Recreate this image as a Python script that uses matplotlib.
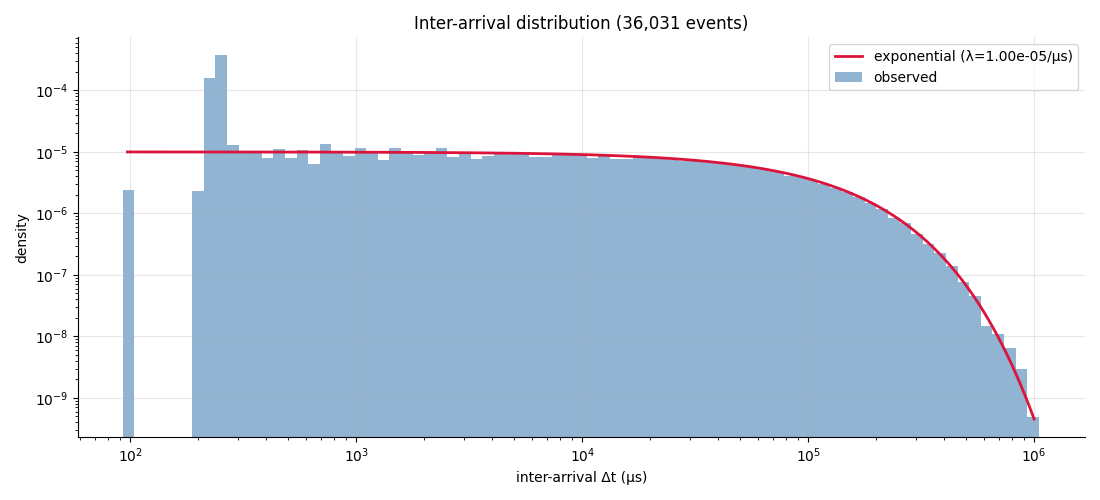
import numpy as np
import matplotlib
matplotlib.use("Agg")
import matplotlib.pyplot as plt

# histogram data, log-spaced bins
n_events = 36031
t_min, t_max = 92.5, 1.048e6
n_bins = 79
density = [
    2.4e-6, 0, 0, 0, 0, 0, 2.3e-6, 1.57e-4, 3.7e-4, 1.3e-5,
    1.03e-5, 1.0e-5, 8.1e-6, 1.12e-5, 8.1e-6, 1.08e-5, 6.45e-6, 1.35e-5, 1.03e-5, 8.7e-6,
    1.16e-5, 1.0e-5, 7.5e-6, 1.16e-5, 1.0e-5, 8.9e-6, 9.8e-6, 1.16e-5, 8.4e-6, 9.7e-6,
    7.8e-6, 8.6e-6, 9.3e-6, 9.2e-6, 9.2e-6, 8.4e-6, 8.3e-6, 9.2e-6, 9.1e-6, 9.0e-6,
    8.1e-6, 9.0e-6, 7.8e-6, 7.8e-6, 8.5e-6, 8.3e-6, 7.6e-6, 7.5e-6, 7.2e-6, 7.2e-6,
    6.9e-6, 6.6e-6, 6.3e-6, 5.9e-6, 5.6e-6, 5.2e-6, 4.8e-6, 4.0e-6, 3.9e-6, 3.5e-6,
    3.0e-6, 2.6e-6, 2.25e-6, 1.87e-6, 1.5e-6, 1.2e-6, 8.3e-7, 7.1e-7, 4.7e-7, 3.2e-7,
    2.3e-7, 1.37e-7, 7.8e-8, 4.6e-8, 1.46e-8, 1.08e-8, 6.4e-9, 2.97e-9, 4.9e-10,
]

# fitted exponential
lam = 1.00e-5
t_fit_start, t_fit_end = 97, 1e6

edges = np.logspace(np.log10(t_min), np.log10(t_max), n_bins + 1)
t = np.logspace(np.log10(t_fit_start), np.log10(t_fit_end), 400)
pdf = lam * np.exp(-lam * t)

fig, ax = plt.subplots(figsize=(11, 5), dpi=100)

ax.plot(t, pdf, color="crimson", lw=2, label=f"exponential (λ={lam:.2e}/μs)")
ax.hist(edges[:-1], bins=edges, weights=density, color="steelblue", alpha=0.6,
        label="observed")

ax.set_xscale("log")
ax.set_yscale("log")
ax.set_xlim(58.5, 1.68e6)
ax.set_ylim(2.3e-10, 7.3e-4)
ax.grid(True, alpha=0.3)
ax.spines["top"].set_visible(False)
ax.spines["right"].set_visible(False)

ax.set_title(f"Inter-arrival distribution ({n_events:,} events)")
ax.set_xlabel("inter-arrival Δt (μs)")
ax.set_ylabel("density")
ax.legend(loc="upper right")

plt.tight_layout()
plt.savefig("out.png")
